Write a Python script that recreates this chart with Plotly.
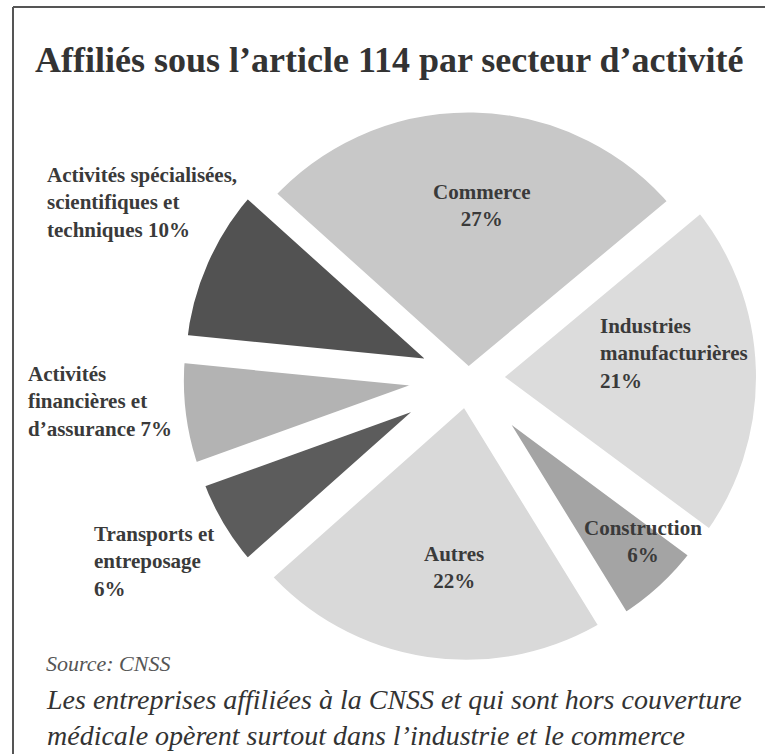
import plotly.graph_objects as go

W, H = 765, 754

sectors = [
    "Commerce",
    "Industries manufacturières",
    "Construction",
    "Autres",
    "Transports et entreposage",
    "Activités financières et d'assurance",
    "Activités spécialisées, scientifiques et techniques",
]
shares = [27, 21, 6, 22, 6, 7, 10]
label_texts = [
    "Commerce<br>27%",
    "Industries<br>manufacturières<br>21%",
    "Construction<br>6%",
    "Autres<br>22%",
    "Transports et<br>entreposage<br>6%",
    "Activités<br>financières et<br>d’assurance 7%",
    "Activités spécialisées,<br>scientifiques et<br>techniques 10%",
]
colors = ["#c8c8c8", "#dcdcdc", "#a4a4a4", "#d9d9d9", "#5c5c5c", "#b3b3b3", "#525252"]
pulls = [0.0, 0.08, 0.06, 0.06, 0.07, 0.07, 0.07]

# label anchor positions in pixels (x, y-center, align)
label_pos = [
    (482, 206, "center"),
    (598, 353, "left"),
    (643, 541, "center"),
    (454, 567, "center"),
    (92, 561, "left"),
    (26, 401, "left"),
    (45, 202, "left"),
]

fig = go.Figure()
cy = 378
x_left, x_right = 172, 765
half_h = (x_right - x_left) / 2
fig.add_trace(go.Pie(
    labels=sectors,
    values=shares,
    sort=False,
    direction="clockwise",
    rotation=-48,
    pull=pulls,
    textinfo="none",
    hoverinfo="label+percent",
    showlegend=False,
    marker=dict(colors=colors, line=dict(color="white", width=18)),
    domain=dict(x=[x_left / W, x_right / W],
                y=[(H - cy - half_h) / H, (H - cy + half_h) / H]),
))

serif = "Liberation Serif, Times New Roman, serif"
txt_color = "#3a3a3a"

annotations = []
for t, (px, py, al) in zip(label_texts, label_pos):
    annotations.append(dict(
        text=t, x=px / W, y=1 - py / H, xref="paper", yref="paper",
        xanchor="left" if al == "left" else "center", yanchor="middle",
        align=al, showarrow=False,
        font=dict(family=serif, size=21, color=txt_color, weight="bold"),
    ))

annotations.append(dict(
    text="Affiliés sous l’article 114 par secteur d’activité",
    x=389 / W, y=1 - 60 / H, xref="paper", yref="paper",
    xanchor="center", yanchor="middle", showarrow=False,
    font=dict(family=serif, size=36, color="#333333", weight="bold"),
))
annotations.append(dict(
    text="<i>Source: CNSS</i>",
    x=44 / W, y=1 - 663 / H, xref="paper", yref="paper",
    xanchor="left", yanchor="middle", showarrow=False,
    font=dict(family=serif, size=22, color="#555555"),
))
annotations.append(dict(
    text="<i>Les entreprises affiliées à la CNSS et qui sont hors couverture<br>médicale opèrent surtout dans l’industrie et le commerce</i>",
    x=44 / W, y=1 - 717 / H, xref="paper", yref="paper",
    xanchor="left", yanchor="middle", align="left", showarrow=False,
    font=dict(family=serif, size=28, color="#333333"),
))

shapes = [
    dict(type="line", xref="paper", yref="paper", x0=13 / W, x1=1, y0=1 - 7 / H, y1=1 - 7 / H,
         line=dict(color="#555555", width=2)),
    dict(type="line", xref="paper", yref="paper", x0=13 / W, x1=13 / W, y0=1 - 7 / H, y1=0,
         line=dict(color="#555555", width=2)),
]

fig.update_layout(
    width=W, height=H,
    margin=dict(l=0, r=0, t=0, b=0),
    paper_bgcolor="#ffffff",
    plot_bgcolor="#ffffff",
    annotations=annotations,
    shapes=shapes,
)

fig.write_html("out.html")
